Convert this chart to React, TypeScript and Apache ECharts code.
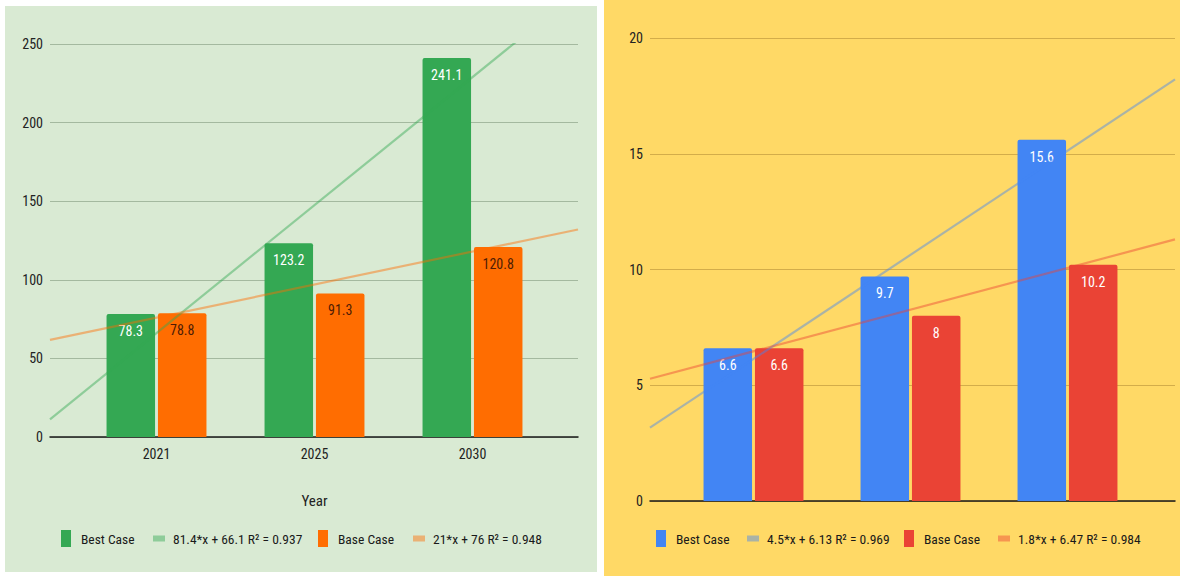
import React, { useEffect, useRef } from "react";
import * as echarts from "echarts";

const CATEGORIES = ["2021", "2025", "2030"];
const LEFT_BEST = [78.3, 123.2, 241.1];
const LEFT_BASE = [78.8, 91.3, 120.8];
const RIGHT_BEST = [6.6, 9.7, 15.6];
const RIGHT_BASE = [6.6, 8, 10.2];
const LEFT_AXIS = { min: 0, max: 250, interval: 50 };
const RIGHT_AXIS = { min: 0, max: 20, interval: 5 };
const SERIES_NAMES = ["Best Case", "Base Case"];
const X_TITLE = "Year";

const FONT = "'Liberation Sans Narrow', 'Arial Narrow', 'Roboto Condensed', Roboto, sans-serif";

function fit(ys: number[]) {
  const n = ys.length;
  const xs = ys.map((_, i) => i);
  const mx = xs.reduce((a, b) => a + b, 0) / n;
  const my = ys.reduce((a, b) => a + b, 0) / n;
  let sxy = 0, sxx = 0;
  for (let i = 0; i < n; i++) { sxy += (xs[i] - mx) * (ys[i] - my); sxx += (xs[i] - mx) ** 2; }
  const slope = sxy / sxx;
  const intercept = my - slope * mx;
  let ssr = 0, sst = 0;
  for (let i = 0; i < n; i++) { ssr += (ys[i] - (intercept + slope * xs[i])) ** 2; sst += (ys[i] - my) ** 2; }
  const r2 = 1 - ssr / sst;
  const f = (v: number) => String(parseFloat(v.toPrecision(3)));
  return { slope, intercept, label: `${f(slope)}*x + ${f(intercept)} R² = ${r2.toFixed(3)}` };
}

const BAR_ICON = "path://M0,0L10,0L10,17L0,17ZM15,0L15,0";
const LINE_ICON = "path://M0,0L0,0M0,5.5L12,5.5L12,11.5L0,11.5ZM15,17L15,17";

type Panel = {
  best: number[]; base: number[]; axis: { min: number; max: number; interval: number };
  colors: [string, string]; labelColors: [string, string]; gridColor: string;
  wide: { left: number; top: number; width: number; height: number };
  cat: { left: number; width: number };
  showCats: boolean; legendLefts: number[]; idx: number;
};

function buildPanel(p: Panel) {
  const gW = p.idx * 2, gC = p.idx * 2 + 1;
  const band = p.cat.width / CATEGORIES.length;
  const c0 = p.cat.left + band / 2;
  const xmin = (p.wide.left - c0) / band;
  const xmax = (p.wide.left + p.wide.width - c0) / band;
  const fits = [fit(p.best), fit(p.base)];
  const grids = [
    { left: p.wide.left, top: p.wide.top, width: p.wide.width, height: p.wide.height },
    { left: p.cat.left, top: p.wide.top, width: p.cat.width, height: p.wide.height },
  ];
  const xAxes: any[] = [
    {
      type: "value", gridIndex: gW, min: xmin, max: xmax,
      axisLine: { show: true, lineStyle: { color: "#1a1a1a", width: 1.5 } },
      axisTick: { show: false }, axisLabel: { show: false }, splitLine: { show: false },
    },
    {
      type: "category", gridIndex: gC, data: CATEGORIES,
      axisLine: { show: false }, axisTick: { show: false },
      axisLabel: { show: p.showCats, margin: 10, color: "#222", fontSize: 14, fontFamily: FONT },
      name: p.showCats ? X_TITLE : "", nameLocation: "middle", nameGap: 56,
      nameTextStyle: { color: "#222", fontSize: 15, fontFamily: FONT },
    },
  ];
  const yAxes: any[] = [
    {
      type: "value", gridIndex: gW, min: p.axis.min, max: p.axis.max, interval: p.axis.interval,
      axisLine: { show: false }, axisTick: { show: false },
      axisLabel: { margin: 7, color: "#222", fontSize: 14, fontFamily: FONT },
      splitLine: { lineStyle: { color: p.gridColor, width: 1 } },
    },
    {
      type: "value", gridIndex: gC, min: p.axis.min, max: p.axis.max, interval: p.axis.interval,
      show: false, splitLine: { show: false },
    },
  ];
  const series: any[] = [];
  [p.best, p.base].forEach((vals, k) => {
    series.push({
      type: "bar", name: SERIES_NAMES[k], xAxisIndex: gC, yAxisIndex: gC, data: vals,
      barWidth: 48.5, barGap: "6%",
      itemStyle: { color: p.colors[k], borderRadius: [2, 2, 0, 0] },
      label: {
        show: true, position: "insideTop", distance: 10, color: p.labelColors[k],
        fontSize: 14, fontFamily: FONT,
      },
      z: 2,
    });
  });
  fits.forEach((ft, k) => {
    series.push({
      type: "line", name: ft.label, xAxisIndex: gW, yAxisIndex: gW,
      data: [[xmin, ft.intercept + ft.slope * xmin], [xmax, ft.intercept + ft.slope * xmax]],
      showSymbol: false, symbol: "none", clip: true,
      lineStyle: { color: p.colors[k], width: 2.2, opacity: 0.45 },
      z: 4,
    });
  });
  const legendItems = [
    { name: SERIES_NAMES[0], icon: BAR_ICON, color: p.colors[0], op: 1 },
    { name: fits[0].label, icon: LINE_ICON, color: p.colors[0], op: 0.45 },
    { name: SERIES_NAMES[1], icon: BAR_ICON, color: p.colors[1], op: 1 },
    { name: fits[1].label, icon: LINE_ICON, color: p.colors[1], op: 0.45 },
  ];
  const legends = legendItems.map((it, i) => ({
    left: p.legendLefts[i], top: 530, padding: 0, itemWidth: 15, itemHeight: 17,
    selectedMode: false,
    data: [{ name: it.name, icon: it.icon, itemStyle: { color: it.color, opacity: it.op, borderWidth: 0 } }],
    textStyle: { color: "#1a1a1a", fontSize: 13.5, fontFamily: FONT },
  }));
  return { grids, xAxes, yAxes, series, legends };
}

export default function App() {
  const ref = useRef<HTMLDivElement>(null);
  useEffect(() => {
    if (!ref.current) return;
    const chart = echarts.init(ref.current, undefined, { renderer: "svg" });
    const left = buildPanel({
      best: LEFT_BEST, base: LEFT_BASE, axis: LEFT_AXIS,
      colors: ["#34a853", "#ff6d01"], labelColors: ["#ffffff", "#4e1c05"], gridColor: "#a4b99f",
      wide: { left: 50, top: 44, width: 528, height: 393 },
      cat: { left: 77.5, width: 474 }, showCats: true, legendLefts: [61, 153, 318, 413], idx: 0,
    });
    const right = buildPanel({
      best: RIGHT_BEST, base: RIGHT_BASE, axis: RIGHT_AXIS,
      colors: ["#4285f4", "#ea4335"], labelColors: ["#ffffff", "#ffffff"], gridColor: "#d3ad4a",
      wide: { left: 650, top: 38, width: 525, height: 463 },
      cat: { left: 675, width: 471 }, showCats: false, legendLefts: [656, 747, 904, 998], idx: 1,
    });
    chart.setOption({
      animation: false,
      backgroundColor: "#ffffff",
      textStyle: { fontFamily: FONT },
      graphic: [
        { type: "rect", z: -10, shape: { x: 5, y: 6, width: 592, height: 566 }, style: { fill: "#d9ead3" } },
        { type: "rect", z: -10, shape: { x: 604, y: 0, width: 576, height: 576 }, style: { fill: "#ffd966" } },
      ],
      grid: [...left.grids, ...right.grids],
      xAxis: [...left.xAxes, ...right.xAxes],
      yAxis: [...left.yAxes, ...right.yAxes],
      series: [...left.series, ...right.series],
      legend: [...left.legends, ...right.legends],
    });
    return () => chart.dispose();
  }, []);
  return <div ref={ref} style={{ position: "fixed", left: 0, top: 0, width: 1180, height: 576 }} />;
}
